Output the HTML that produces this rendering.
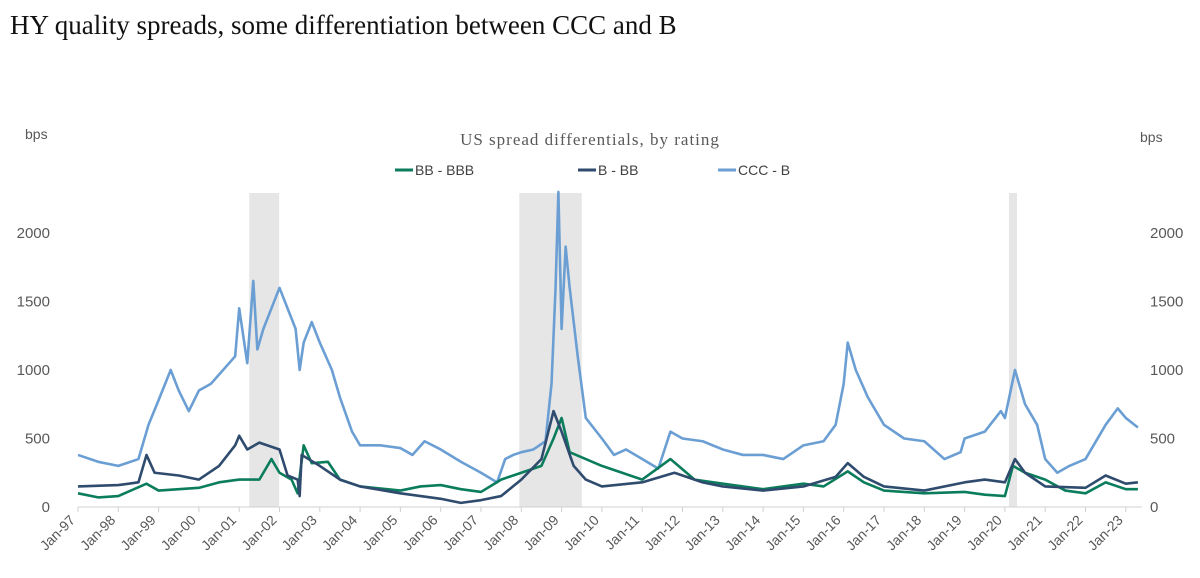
<!DOCTYPE html>
<html><head><meta charset="utf-8"><style>
body{margin:0;background:#fff;width:1200px;height:573px;overflow:hidden}
svg text{font-family:"Liberation Sans",sans-serif}
</style></head><body>
<svg id="c" width="1200" height="573">
<text x="10" y="34" style="font-family:'Liberation Serif',serif" font-size="27" fill="#111">HY quality spreads, some differentiation between CCC and B</text>
<text x="25" y="139" font-size="14" fill="#595959">bps</text>
<text x="1140" y="142" font-size="14" fill="#595959">bps</text>
<text x="590" y="145" text-anchor="middle" font-size="17" fill="#595959" style="font-family:'Liberation Serif',serif;letter-spacing:1px">US spread differentials, by rating</text>
<g id="legend"></g>
<g id="rec"></g><g id="axes"></g><g id="lines"></g>
</svg>
<script>
const yTicks=[0,500,1000,1500,2000];
const xLabels=["Jan-97","Jan-98","Jan-99","Jan-00","Jan-01","Jan-02","Jan-03","Jan-04","Jan-05","Jan-06","Jan-07","Jan-08","Jan-09","Jan-10","Jan-11","Jan-12","Jan-13","Jan-14","Jan-15","Jan-16","Jan-17","Jan-18","Jan-19","Jan-20","Jan-21","Jan-22","Jan-23"];
const recStart=[2001.25,2007.95,2020.1];
const recEnd=[2001.99,2009.5,2020.3];
const cccDates=[1997,1997.5,1998,1998.5,1998.75,1999,1999.3,1999.5,1999.75,2000,2000.3,2000.6,2000.9,2001,2001.2,2001.35,2001.45,2001.6,2001.8,2002,2002.2,2002.4,2002.5,2002.6,2002.8,2003,2003.3,2003.5,2003.8,2004,2004.5,2005,2005.3,2005.6,2006,2006.5,2007,2007.4,2007.6,2007.8,2008,2008.3,2008.6,2008.75,2008.85,2008.92,2009,2009.1,2009.2,2009.4,2009.6,2010,2010.3,2010.6,2011,2011.4,2011.7,2012,2012.5,2013,2013.5,2014,2014.5,2015,2015.5,2015.8,2016,2016.1,2016.3,2016.6,2017,2017.5,2018,2018.5,2018.9,2019,2019.5,2019.9,2020,2020.25,2020.5,2020.8,2021,2021.3,2021.6,2022,2022.5,2022.8,2023,2023.3];
const cccVals=[380,330,300,350,600,780,1000,850,700,850,900,1000,1100,1450,1050,1650,1150,1300,1450,1600,1450,1300,1000,1200,1350,1200,1000,800,550,450,450,430,380,480,420,330,250,180,350,380,400,420,480,900,1600,2300,1300,1900,1600,1100,650,500,380,420,350,280,550,500,480,420,380,380,350,450,480,600,900,1200,1000,800,600,500,480,350,400,500,550,700,650,1000,750,600,350,250,300,350,600,720,650,580];
const bbDates=[1997,1998,1998.5,1998.7,1998.9,1999.5,2000,2000.5,2000.9,2001,2001.2,2001.5,2002,2002.2,2002.45,2002.5,2002.55,2003,2003.5,2004,2005,2006,2006.5,2007,2007.5,2008,2008.5,2008.8,2009,2009.3,2009.6,2010,2011,2011.8,2012.5,2013,2014,2015,2015.8,2016.1,2016.5,2017,2018,2019,2019.5,2020,2020.25,2020.5,2021,2022,2022.5,2023,2023.3];
const bbVals=[150,160,180,380,250,230,200,300,450,520,420,470,420,230,200,80,380,300,200,150,100,60,30,50,80,200,350,700,550,300,200,150,180,250,180,150,120,150,220,320,220,150,120,180,200,180,350,250,150,140,230,170,180];
const bbbDates=[1997,1997.5,1998,1998.7,1999,2000,2000.5,2001,2001.5,2001.8,2002,2002.3,2002.45,2002.6,2002.8,2003.2,2003.5,2004,2005,2005.5,2006,2006.5,2007,2007.5,2008,2008.5,2008.8,2009,2009.2,2009.6,2010,2010.5,2011,2011.7,2012.3,2013,2014,2015,2015.5,2016.1,2016.5,2017,2018,2019,2019.5,2020,2020.2,2020.5,2021,2021.5,2022,2022.5,2023,2023.3];
const bbbVals=[100,70,80,170,120,140,180,200,200,350,250,200,100,450,320,330,200,150,120,150,160,130,110,200,250,300,500,650,400,350,300,250,200,350,200,170,130,170,150,260,180,120,100,110,90,80,300,250,200,120,100,180,130,130];
const x0=78,pxYr=40.3,y0=507,pxV=68.5/500;
const X=d=>x0+(d-1997)*pxYr, Y=v=>y0-v*pxV;
const NS="http://www.w3.org/2000/svg";
function mk(t,a,p){const e=document.createElementNS(NS,t);for(const k in a)e.setAttribute(k,a[k]);p.appendChild(e);return e;}
const rec=document.getElementById('rec'),ax=document.getElementById('axes'),ln=document.getElementById('lines'),lg=document.getElementById('legend');
recStart.forEach((s,i)=>{const r=mk('rect',{x:X(s),y:193,width:X(recEnd[i])-X(s),height:y0-193,fill:'#e6e6e6'},rec);

});
mk('line',{x1:x0,x2:1142,y1:y0,y2:y0,stroke:'#d0d0d0','stroke-width':1},ax);
yTicks.forEach(v=>{
 const a=mk('text',{x:50,y:Y(v)+5,'text-anchor':'end','font-size':15,fill:'#595959'},ax);a.textContent=v;
 
 
 const b=mk('text',{x:1150,y:Y(v)+5,'font-size':15,fill:'#595959'},ax);b.textContent=v;
 
 
});
xLabels.forEach((l,i)=>{const x=X(1997+i);
 mk('line',{x1:x,x2:x,y1:y0,y2:y0+5,stroke:'#d0d0d0'},ax);
 const t=mk('text',{x:x-2,y:y0+14,'text-anchor':'end','font-size':14,fill:'#595959',transform:`rotate(-45 ${x-2} ${y0+14})`},ax);t.textContent=l;
 
 
});
function line(d,v,c,name){const p=mk('polyline',{points:d.map((q,i)=>X(q)+','+Y(v[i])).join(' '),fill:'none',stroke:c,'stroke-width':2.6,'stroke-linejoin':'round'},ln);
 
 }
line(cccDates,cccVals,'#6b9fd4','series-ccc-b');
line(bbbDates,bbbVals,'#0b7d5c','series-bb-bbb');
line(bbDates,bbVals,'#2f4b6e','series-b-bb');
[['BB - BBB','#0b7d5c',395],['B - BB','#2f4b6e',578],['CCC - B','#6b9fd4',718]].forEach(([n,c,x])=>{
 const g=mk('g',{},lg);
 
 
 mk('line',{x1:x,x2:x+18,y1:170,y2:170,stroke:c,'stroke-width':3},g);
 const t=mk('text',{x:x+20,y:175,'font-size':14,fill:'#404040'},g);t.textContent=n;});
</script>
</body></html>
